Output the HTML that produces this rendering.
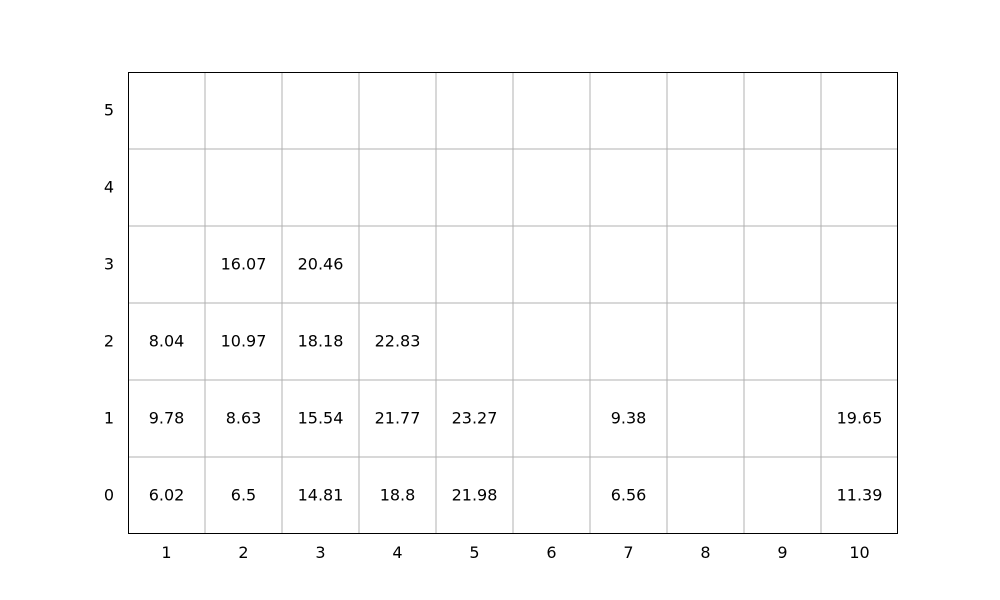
<!DOCTYPE html>
<html>
<head>
<meta charset="utf-8">
<style>
  html, body { margin: 0; padding: 0; background: #fff; }
  svg { display: block; font-family: "DejaVu Sans", "Liberation Sans", sans-serif; }
</style>
</head>
<body>
<svg id="chart" width="1000" height="600"></svg>
<script>
const columns = [1, 2, 3, 4, 5, 6, 7, 8, 9, 10];
const rowTicks = [0, 1, 2, 3, 4, 5];
const col1 = [6.02, 9.78, 8.04];
const col2 = [6.5, 8.63, 10.97, 16.07];
const col3 = [14.81, 15.54, 18.18, 20.46];
const col4 = [18.8, 21.77, 22.83];
const col5 = [21.98, 23.27];
const col6 = [];
const col7 = [6.56, 9.38];
const col8 = [];
const col9 = [];
const col10 = [11.39, 19.65];
const seriesByColumn = [col1, col2, col3, col4, col5, col6, col7, col8, col9, col10];

const NS = "http://www.w3.org/2000/svg";
const svg = document.getElementById("chart");
const L = 128, R = 898, T = 72, B = 534;
const cw = (R - L) / columns.length;
const rh = (B - T) / rowTicks.length;
const xCenter = i => L + cw * (i + 0.5);
const yCenter = j => B - rh * (j + 0.5);

function mk(tag, attrs) {
  const e = document.createElementNS(NS, tag);
  for (const k in attrs) e.setAttribute(k, attrs[k]);
  svg.appendChild(e);
  return e;
}

for (let i = 1; i < columns.length; i++) {
  const x = L + cw * i;
  const g = mk("line", {x1: x, x2: x, y1: T, y2: B, stroke: "#b0b0b0", "stroke-width": 1});
  
  
}
for (let j = 1; j < rowTicks.length; j++) {
  const y = B - rh * j;
  const g = mk("line", {x1: L, x2: R, y1: y, y2: y, stroke: "#b0b0b0", "stroke-width": 1});
  
  
}
const frame = mk("rect", {x: L + 0.5, y: T + 0.5, width: R - L - 1, height: B - T - 1, fill: "none", stroke: "#000", "stroke-width": 1});



columns.forEach((c, i) => {
  const t = mk("text", {x: xCenter(i), y: 558, "text-anchor": "middle", "font-size": 16, fill: "#000"});
  t.textContent = c;
  
  
});
rowTicks.forEach((r, j) => {
  const t = mk("text", {x: 114, y: yCenter(j) + 5, "text-anchor": "end", "font-size": 16, fill: "#000"});
  t.textContent = r;
  
  
});
seriesByColumn.forEach((vals, i) => {
  vals.forEach((v, j) => {
    const t = mk("text", {x: xCenter(i), y: yCenter(j) + 5, "text-anchor": "middle", "font-size": 16, fill: "#000"});
    t.textContent = v;
    
    
  });
});
</script>
</body>
</html>
